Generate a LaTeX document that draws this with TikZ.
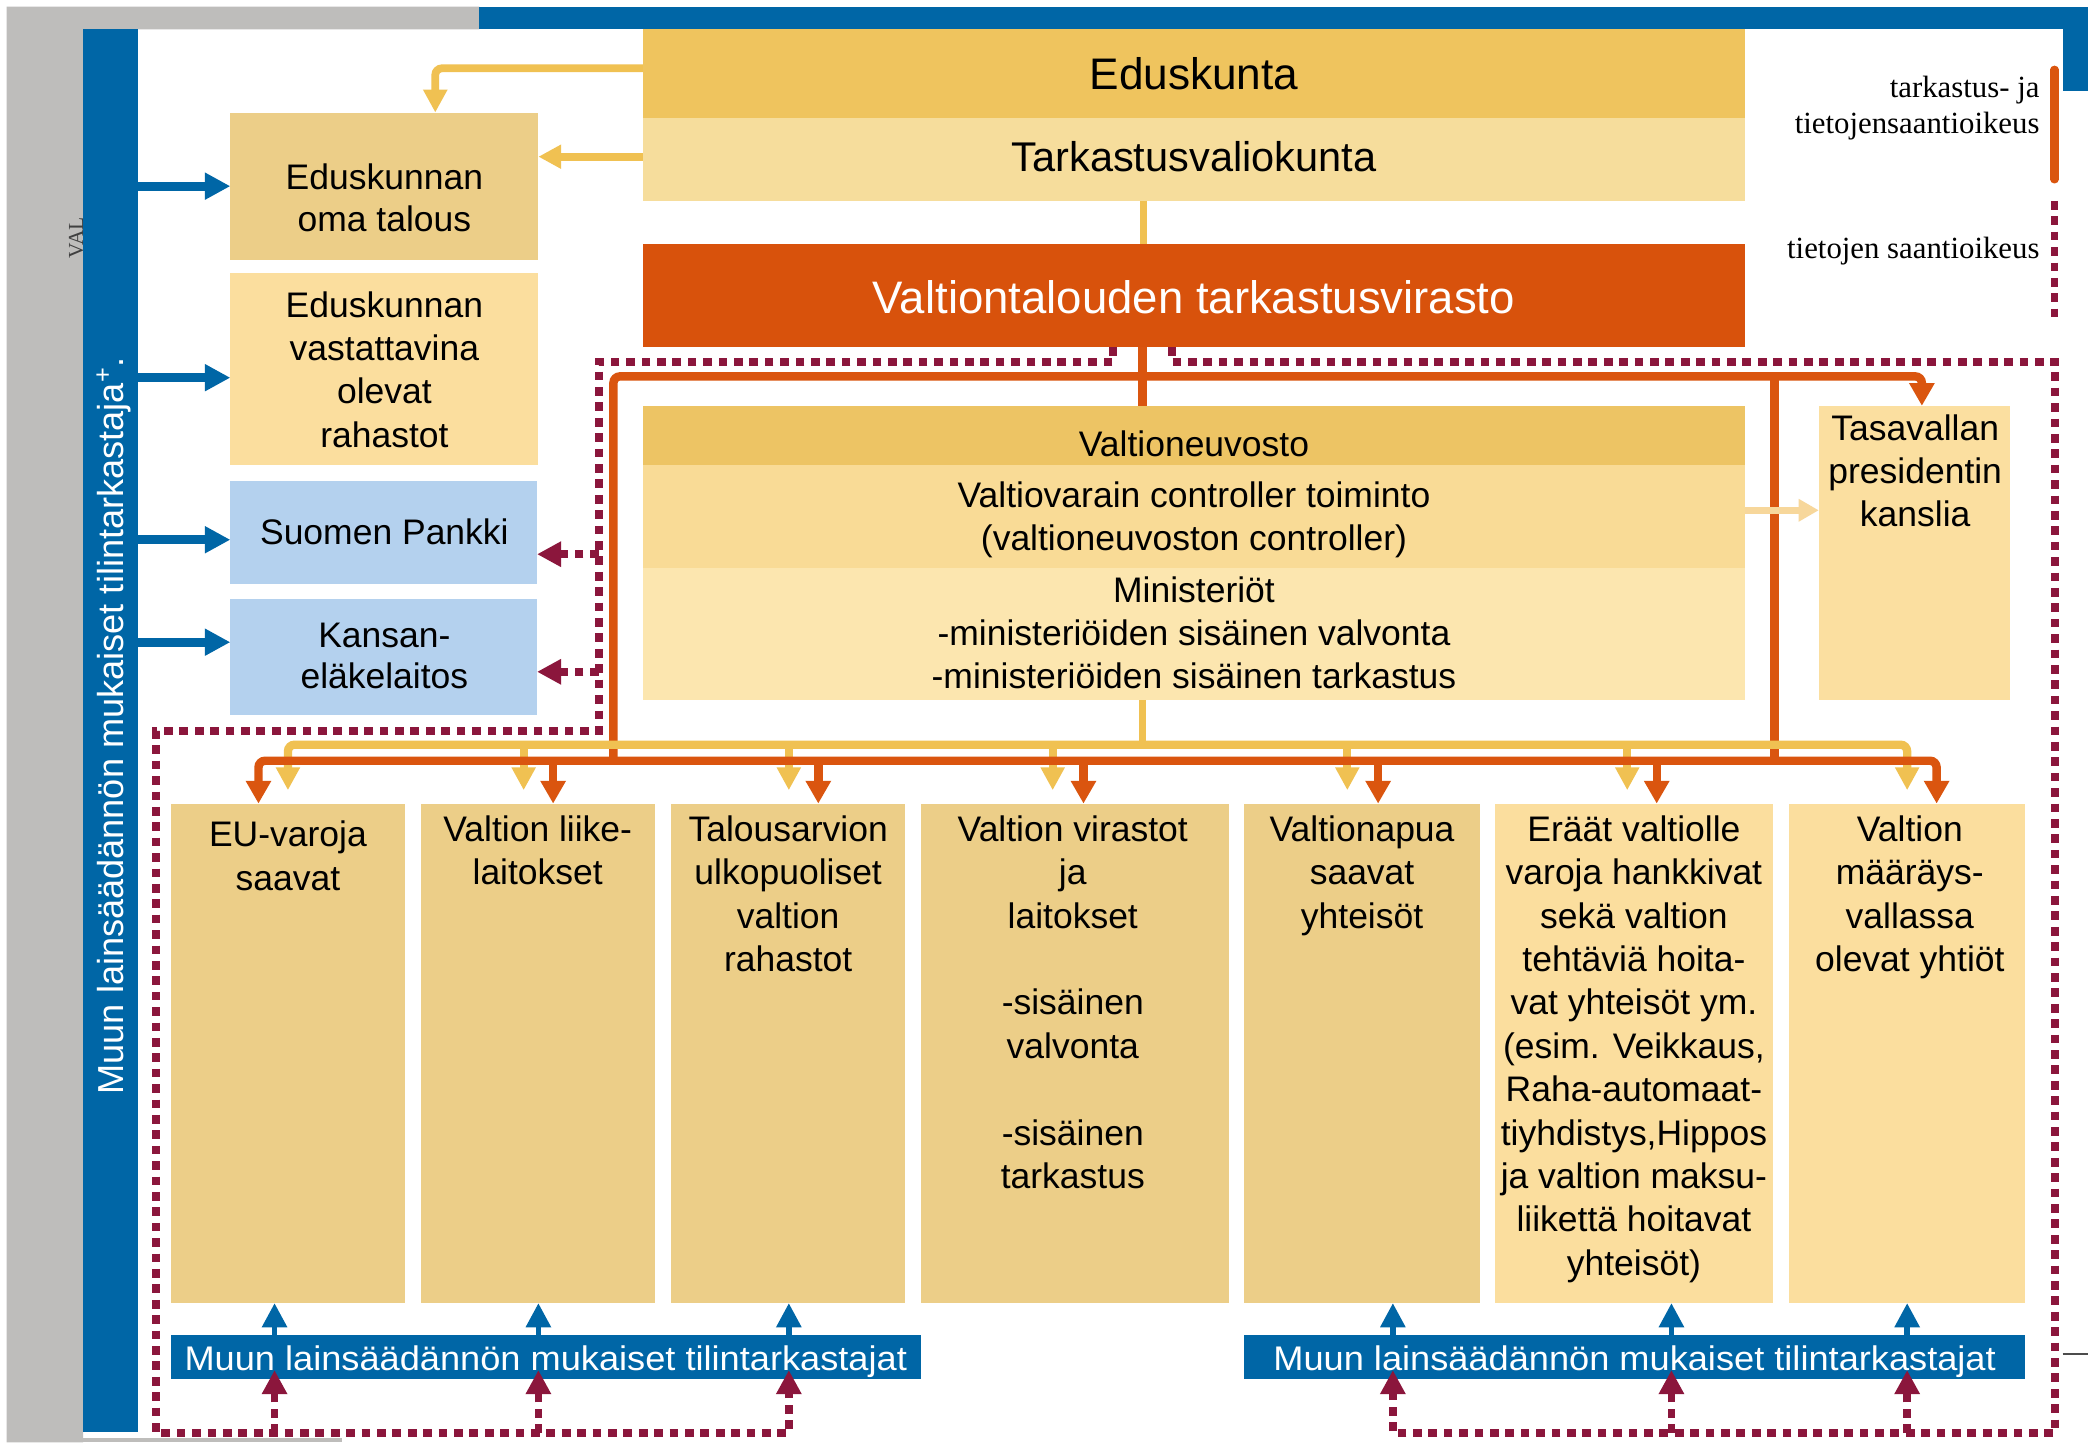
\documentclass[tikz,border=0pt]{standalone}
\usepackage{fontspec}
\setmainfont{Liberation Sans}
\newfontfamily\legendfont{Liberation Serif}
\usetikzlibrary{arrows.meta}
\definecolor{cGray}{RGB}{190,189,187}
\definecolor{cBlue}{RGB}{0,102,166}
\definecolor{cEdk}{RGB}{239,196,94}
\definecolor{cTvk}{RGB}{246,221,156}
\definecolor{cVTV}{RGB}{216,82,12}
\definecolor{cVnA}{RGB}{237,196,100}
\definecolor{cVnB}{RGB}{249,219,150}
\definecolor{cVnC}{RGB}{252,230,175}
\definecolor{cTpk}{RGB}{251,223,160}
\definecolor{cTan}{RGB}{236,206,136}
\definecolor{cLight}{RGB}{251,222,158}
\definecolor{cSky}{RGB}{180,209,238}
\definecolor{cGoldLine}{RGB}{240,193,82}
\definecolor{cOrange}{RGB}{218,85,15}
\definecolor{cMaroon}{RGB}{139,22,60}
\definecolor{cFaint}{RGB}{247,215,155}
\begin{document}
\begin{tikzpicture}[x=1pt,y=-1pt,
  box/.style={inner sep=0pt, outer sep=0pt, anchor=north west, draw=none},
  txt/.style={inner sep=0pt, outer sep=0pt, align=center, font=\fontsize{26.5}{32.4}\selectfont},
  goldln/.style={draw=cGoldLine, line width=5.8pt},
  orgln/.style={draw=cOrange, line width=6.3pt},
  blueln/.style={draw=cBlue, line width=6.5pt},
  mdash/.style={draw=cMaroon, line width=5.8pt, dash pattern=on 6.5pt off 5pt},
  tipG/.tip={Triangle[width=17pt,length=17pt]},
  tipO/.tip={Triangle[width=18pt,length=17pt]},
  tipB/.tip={Triangle[width=19pt,length=19pt]},
  tipU/.tip={Triangle[width=18pt,length=18pt]},
  tipM/.tip={Triangle[width=18pt,length=18pt]},
]
\useasboundingbox (0,0) rectangle (1568,1077);
\fill[white] (0,0) rectangle (1568,1077);
% background frame
\fill[cGray] (5,5) -- (358,5) -- (358,22) -- (62,22) -- (62,1077) -- (5,1077) -- cycle;
\fill[cGray] (62,1074) rectangle (255,1077);
\node[rotate=90, anchor=base west, inner sep=0pt, text=black!75, font=\legendfont\fontsize{16}{18}\selectfont] (valT) at (62,193) {VAL};
\node[box, fill=cBlue, minimum width=1182pt, minimum height=17pt] (tbar) at (358,5) {};
\node[box, fill=cBlue, minimum width=19pt, minimum height=63pt] (rbar) at (1540,5) {};
\node[box, fill=cBlue, minimum width=41pt, minimum height=1047pt] (lbar) at (62,22) {};
\draw[black!70, line width=1pt] (1540,1011) -- (1559,1011);

% top boxes
\node[box, fill=cEdk, minimum width=823pt, minimum height=66pt] (edk) at (480,22) {};
\node[box, fill=cTvk, minimum width=823pt, minimum height=62pt] (tvk) at (480,88) {};
\node[box, fill=cVTV, minimum width=823pt, minimum height=77pt] (vtv) at (480,182) {};
\node[box, fill=cVnA, minimum width=823pt, minimum height=44pt] (vn1) at (480,303) {};
\node[box, fill=cVnB, minimum width=823pt, minimum height=77pt] (vn2) at (480,347) {};
\node[box, fill=cVnC, minimum width=823pt, minimum height=99pt] (vn3) at (480,424) {};
\node[box, fill=cTpk, minimum width=143pt, minimum height=220pt] (tpk) at (1358,303) {};
% left boxes
\node[box, fill=cTan, minimum width=230pt, minimum height=110pt] (oma) at (172,84) {};
\node[box, fill=cLight, minimum width=230pt, minimum height=143pt] (vast) at (172,204) {};
\node[box, fill=cSky, minimum width=229pt, minimum height=77pt] (spk) at (172,359) {};
\node[box, fill=cSky, minimum width=229pt, minimum height=87pt] (kela) at (172,447) {};
% bottom boxes
\node[box, fill=cTan, minimum width=175pt, minimum height=373pt] (b1) at (127.5,600) {};
\node[box, fill=cTan, minimum width=175pt, minimum height=373pt] (b2) at (314,600) {};
\node[box, fill=cTan, minimum width=175pt, minimum height=373pt] (b3) at (501,600) {};
\node[box, fill=cTan, minimum width=230pt, minimum height=373pt] (b4) at (688,600) {};
\node[box, fill=cTan, minimum width=176pt, minimum height=373pt] (b5) at (929,600) {};
\node[box, fill=cLight, minimum width=207.5pt, minimum height=373pt] (b6) at (1116.5,600) {};
\node[box, fill=cLight, minimum width=176pt, minimum height=373pt] (b7) at (1336,600) {};
\node[box, fill=cBlue, minimum width=560pt, minimum height=33pt] (bar1) at (127.5,997) {};
\node[box, fill=cBlue, minimum width=583pt, minimum height=33pt] (bar2) at (929,997) {};

% gold connectors (Eduskunta)
\draw[goldln, rounded corners=5pt, -{tipG}] (edk.west |- 0,51) -| (oma.north -| 325,0);
\draw[goldln, -{tipG}] (tvk.west |- 0,117) -- (oma.east |- 0,117);
\draw[goldln, line width=5pt] (tvk.south -| 854,0) -- (vtv.north -| 854,0);

% blue arrows from left bar
\draw[blueln, -{tipB}] (lbar.east |- 0,139) -- (oma.west |- 0,139);
\draw[blueln, -{tipB}] (lbar.east |- 0,282) -- (vast.west |- 0,282);
\draw[blueln, -{tipB}] (lbar.east |- 0,403) -- (spk.west |- 0,403);
\draw[blueln, -{tipB}] (lbar.east |- 0,479.5) -- (kela.west |- 0,479.5);

% maroon dashed connectors
\draw[mdash, -{tipM}] (vtv.south -| 831,0) |- (447,270) |- (116.5,546) |- (589,1070) -- ([yshift=7pt]bar1.south -| 589,0);
\draw[mdash, -{tipM}] (447,413.8) -- (spk.east |- 0,413.8);
\draw[mdash, -{tipM}] (447,501.6) -- (kela.east |- 0,501.6);
\draw[mdash, -{tipM}] (205,1070) -- ([yshift=7pt]bar1.south -| 205,0);
\draw[mdash, -{tipM}] (402,1070) -- ([yshift=7pt]bar1.south -| 402,0);
\draw[mdash, -{tipM}] (vtv.south -| 875,0) |- (1534.5,270) |- (1040,1070) -- ([yshift=7pt]bar2.south -| 1040,0);
\draw[mdash, -{tipM}] (1248,1070) -- ([yshift=7pt]bar2.south -| 1248,0);
\draw[mdash, -{tipM}] (1424,1070) -- ([yshift=7pt]bar2.south -| 1424,0);

% orange connectors
\draw[orgln] (vtv.south -| 853,0) -- (vn1.north -| 853,0);
\draw[orgln, rounded corners=5pt, -{tipO}] (458,568) |- (1000,281) -| (tpk.north -| 1435,0);
\draw[orgln] (1325,281) -- (1325,568);

% gold distribution
\draw[goldln, line width=5pt] (vn3.south -| 853,0) -- (853,556);
\draw[goldln, line width=6.2pt, rounded corners=5pt, {tipG}-{tipG}, shorten <=10pt, shorten >=10pt] (b1.north -| 215,0) |- (800,556) -| (b7.north -| 1424,0);
\foreach \gx/\bx in {391/b2,589/b3,786/b4,1006/b5,1215/b6}{
  \draw[goldln, line width=6.2pt, -{tipG}, shorten >=10pt] (\gx,556) -- (\bx.north -| \gx,0);
}
% orange distribution
\draw[orgln, rounded corners=5pt, {tipO}-{tipO}] (b1.north -| 193,0) |- (800,568) -| (b7.north -| 1446,0);
\foreach \ox/\bx in {413/b2,611/b3,809/b4,1029/b5,1237/b6}{
  \draw[orgln, -{tipO}] (\ox,568) -- (\bx.north -| \ox,0);
}

% faint arrow to Tasavallan presidentin kanslia
\draw[draw=cFaint, line width=5pt, -{Triangle[width=16pt,length=15pt]}] (vn2.east |- 0,381) -- (tpk.west |- 0,381);

% blue arrows up from bars
\foreach \ux/\bx/\br in {205/b1/bar1,402/b2/bar1,589/b3/bar1,1040/b5/bar2,1248/b6/bar2,1424/b7/bar2}{
  \draw[draw=cBlue, line width=4pt, -{tipU}] (\br.north -| \ux,0) -- (\bx.south -| \ux,0);
}

% legend
\draw[orgln, line width=6pt, line cap=round] (1534,52) -- (1534,134);
\draw[mdash] (1534,150) -- (1534,237);
\node[anchor=base east, inner sep=0pt, font=\legendfont\fontsize{23}{27}\selectfont] (lg1) at (1523,72.6) {tarkastus- ja};
\node[anchor=base east, inner sep=0pt, font=\legendfont\fontsize{23}{27}\selectfont] (lg2) at (1523,100) {tietojensaantioikeus};
\node[anchor=base east, inner sep=0pt, font=\legendfont\fontsize{23}{27}\selectfont] (lg3) at (1523,192.8) {tietojen saantioikeus};

% texts
\node[txt, anchor=base, font=\fontsize{33}{40}\selectfont] (edkT) at (891.5,67) {Eduskunta};
\node[txt, anchor=base, font=\fontsize{31}{38}\selectfont] (tvkT) at (891.5,128) {Tarkastusvaliokunta};
\node[txt, anchor=base, text=white, font=\fontsize{34}{40}\selectfont] (vtvT) at (891.5,234) {Valtiontalouden tarkastusvirasto};
\node[txt, anchor=base] (vn1T) at (891.5,340.5) {Valtioneuvosto};
\node[txt, anchor=north, font=\fontsize{26.5}{32.3}\selectfont] (vn2T) at (891.5,359.4) {Valtiovarain controller toiminto\\(valtioneuvoston controller)};
\node[txt, anchor=north, font=\fontsize{26.5}{32.3}\selectfont] (vn3T) at (891.5,430.4) {Ministeriöt\\-ministeriöiden sisäinen valvonta\\-ministeriöiden sisäinen tarkastus};
\node[txt, anchor=north, font=\fontsize{26.5}{32.1}\selectfont] (tpkT) at (1430,309.6) {Tasavallan\\presidentin\\kanslia};
\node[txt, anchor=north, font=\fontsize{26.5}{31.6}\selectfont] (omaT) at (287,122.4) {Eduskunnan\\oma talous};
\node[txt, anchor=north] (vastT) at (287,217.5) {Eduskunnan\\vastattavina\\olevat\\rahastot};
\node[txt, anchor=base] (spkT) at (287,406.3) {Suomen Pankki};
\node[txt, anchor=north, font=\fontsize{26.5}{31}\selectfont] (kelaT) at (287,465) {Kansan-\\eläkelaitos};
\node[txt, anchor=north] (b1T) at (215,613) {EU-varoja\\saavat};
\node[txt, anchor=north] (b2T) at (401.5,609) {Valtion liike-\\laitokset};
\node[txt, anchor=north] (b3T) at (588.5,609) {Talousarvion\\ulkopuoliset\\valtion\\rahastot};
\node[txt, anchor=north] (b4T) at (801,609) {Valtion virastot\\ja\\laitokset\\[32.4pt]-sisäinen\\valvonta\\[32.4pt]-sisäinen\\tarkastus};
\node[txt, anchor=north] (b5T) at (1017,609) {Valtionapua\\saavat\\yhteisöt};
\node[txt, anchor=north] (b6T) at (1220,609) {Eräät valtiolle\\varoja hankkivat\\sekä valtion\\tehtäviä hoita-\\vat yhteisöt ym.\\(esim. Veikkaus,\\Raha-automaat-\\tiyhdistys,Hippos\\ja valtion maksu-\\liikettä hoitavat\\yhteisöt)};
\node[txt, anchor=north] (b7T) at (1426,609) {Valtion\\määräys-\\vallassa\\olevat yhtiöt};
\node[txt, anchor=base, text=white, font=\fontsize{25.5}{30}\selectfont] (bar1T) at (407.5,1023) {\scalebox{1.06}[1]{Muun lainsäädännön mukaiset tilintarkastajat}};
\node[txt, anchor=base, text=white, font=\fontsize{25.5}{30}\selectfont] (bar2T) at (1220.5,1023) {\scalebox{1.06}[1]{Muun lainsäädännön mukaiset tilintarkastajat}};
\node[rotate=90, anchor=base, inner sep=0pt, text=white, font=\fontsize{27}{32}\selectfont] (lbarT) at (92,542) {Muun lainsäädännön mukaiset tilintarkastaja\textsuperscript{+}.};
\end{tikzpicture}
\end{document}
